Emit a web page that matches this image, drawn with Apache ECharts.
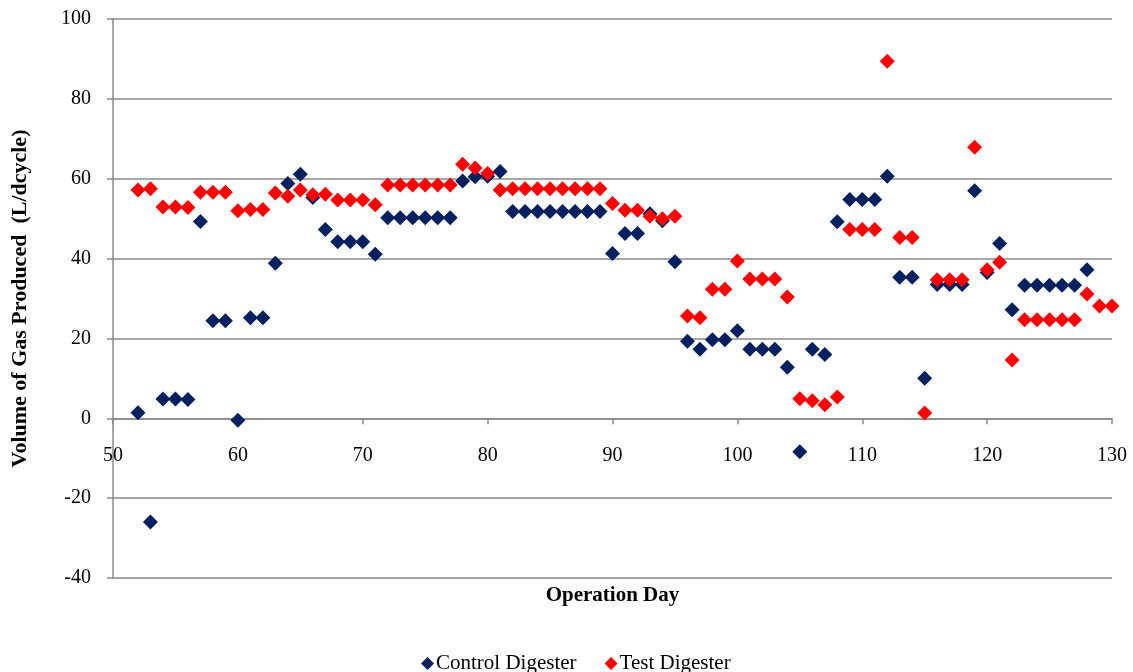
<!DOCTYPE html>
<html>
<head>
<meta charset="utf-8">
<script src="https://cdn.jsdelivr.net/npm/echarts@6/dist/echarts.min.js"></script>
<style>
  html, body { margin: 0; padding: 0; background: #fff; }
  #chart { width: 1133px; height: 672px; }
</style>
</head>
<body>
<div id="chart"></div>
<script>
// Daily gas production of the two digesters (L/dcycle) by operation day
const controlDays = [
  52, 53, 54, 55, 56, 57, 58, 59, 60, 61, 62, 63, 64, 65, 66, 67, 68, 69, 70, 71,
  72, 73, 74, 75, 76, 77, 78, 79, 80, 81, 82, 83, 84, 85, 86, 87, 88, 89, 90, 91,
  92, 93, 94, 95, 96, 97, 98, 99, 100, 101, 102, 103, 104, 105, 106, 107, 108, 109, 110, 111,
  112, 113, 114, 115, 116, 117, 118, 119, 120, 121, 122, 123, 124, 125, 126, 127, 128
];
const controlGas = [
  1.4, -26.0, 4.8, 4.8, 4.7, 49.3, 24.4, 24.4, -0.5, 25.2, 25.2, 38.8, 58.8, 61.1, 55.3, 47.3, 44.2, 44.2, 44.2, 41.1,
  50.2, 50.2, 50.2, 50.2, 50.2, 50.2, 59.4, 60.5, 60.6, 61.8, 51.8, 51.8, 51.8, 51.8, 51.8, 51.8, 51.8, 51.8, 41.3, 46.3,
  46.3, 51.2, 49.5, 39.2, 19.3, 17.3, 19.7, 19.7, 21.9, 17.3, 17.3, 17.3, 12.8, -8.4, 17.3, 16.0, 49.2, 54.8, 54.8, 54.8,
  60.6, 35.3, 35.3, 10.0, 33.5, 33.5, 33.5, 57.0, 36.5, 43.8, 27.2, 33.3, 33.3, 33.3, 33.3, 33.3, 37.2
];
const testDays = [
  52, 53, 54, 55, 56, 57, 58, 59, 60, 61, 62, 63, 64, 65, 66, 67, 68, 69, 70, 71,
  72, 73, 74, 75, 76, 77, 78, 79, 80, 81, 82, 83, 84, 85, 86, 87, 88, 89, 90, 91,
  92, 93, 94, 95, 96, 97, 98, 99, 100, 101, 102, 103, 104, 105, 106, 107, 108, 109, 110, 111,
  112, 113, 114, 115, 116, 117, 118, 119, 120, 121, 122, 123, 124, 125, 126, 127, 128, 129, 130
];
const testGas = [
  57.2, 57.5, 52.9, 52.9, 52.8, 56.6, 56.6, 56.6, 52.0, 52.3, 52.3, 56.4, 55.6, 57.2, 56.0, 56.1, 54.7, 54.7, 54.7, 53.5,
  58.4, 58.4, 58.4, 58.4, 58.4, 58.4, 63.6, 62.7, 61.3, 57.2, 57.5, 57.5, 57.5, 57.5, 57.5, 57.5, 57.5, 57.5, 53.8, 52.1,
  52.1, 50.6, 50.0, 50.6, 25.6, 25.2, 32.3, 32.3, 39.4, 34.9, 34.9, 34.9, 30.4, 4.9, 4.4, 3.4, 5.3, 47.3, 47.3, 47.3,
  89.4, 45.3, 45.3, 1.3, 34.7, 34.7, 34.7, 67.9, 37.2, 39.1, 14.6, 24.7, 24.7, 24.7, 24.7, 24.7, 31.1, 28.1, 28.1
];
const seriesNames = ['Control Digester', 'Test Digester'];

const FONT = '"Liberation Serif", "Times New Roman", serif';
const GRID_GRAY = '#898989';

// Plot area in pixels and value ranges
const GRID = { left: 113, right: 21, top: 19, bottom: 94 };
const Y_MIN = -40, Y_MAX = 100;
const plotHeight = 672 - GRID.top - GRID.bottom;
// lift the day axis from the plot's bottom edge up to the zero line
const zeroOffset = -plotHeight * (0 - Y_MIN) / (Y_MAX - Y_MIN);

const pairs = (xs, ys) => xs.map((x, i) => [x, ys[i]]);

const chart = echarts.init(document.getElementById('chart'), null, { renderer: 'canvas' });
chart.setOption({
  backgroundColor: '#ffffff',
  animation: false,
  grid: {
    left: GRID.left, right: GRID.right, top: GRID.top, bottom: GRID.bottom,
    containLabel: false,
    outerBoundsMode: 'none'
  },
  legend: {
    data: seriesNames,
    top: 648,
    left: 416,
    itemWidth: 13,
    itemHeight: 13,
    itemGap: 28,
    icon: 'diamond',
    textStyle: { fontFamily: FONT, fontSize: 21, color: '#000', padding: [0, 0, 0, -3] }
  },
  xAxis: {
    type: 'value',
    min: 50,
    max: 130,
    interval: 10,
    offset: zeroOffset,
    name: 'Operation Day',
    nameLocation: 'middle',
    nameGap: 167,
    nameTextStyle: { fontFamily: FONT, fontSize: 21, fontWeight: 'bold', color: '#000' },
    axisLine: { show: true, onZero: false, lineStyle: { color: GRID_GRAY, width: 1.5 } },
    axisTick: { show: true, inside: false, length: 6, lineStyle: { color: GRID_GRAY, width: 1.5 } },
    axisLabel: { fontFamily: FONT, fontSize: 20, color: '#000', margin: 27 },
    splitLine: { show: false }
  },
  yAxis: {
    type: 'value',
    min: Y_MIN,
    max: Y_MAX,
    interval: 20,
    name: 'Volume of Gas Produced  (L/dcycle)',
    nameLocation: 'middle',
    nameGap: 82,
    nameRotate: 90,
    nameTextStyle: { fontFamily: FONT, fontSize: 22, fontWeight: 'bold', color: '#000' },
    axisLine: { show: true, lineStyle: { color: GRID_GRAY, width: 1.5 } },
    axisTick: { show: true, inside: false, length: 6, lineStyle: { color: GRID_GRAY, width: 1.5 } },
    axisLabel: { fontFamily: FONT, fontSize: 20, color: '#000', margin: 22 },
    splitLine: { show: true, lineStyle: { color: GRID_GRAY, width: 1.5 } }
  },
  series: [
    {
      name: seriesNames[0],
      type: 'scatter',
      symbol: 'diamond',
      symbolSize: 15,
      itemStyle: { color: '#002060', opacity: 1 },
      data: pairs(controlDays, controlGas),
      z: 2
    },
    {
      name: seriesNames[1],
      type: 'scatter',
      symbol: 'diamond',
      symbolSize: 15,
      itemStyle: { color: '#ff0000', opacity: 1 },
      data: pairs(testDays, testGas),
      z: 3
    }
  ]
});
</script>
</body>
</html>
